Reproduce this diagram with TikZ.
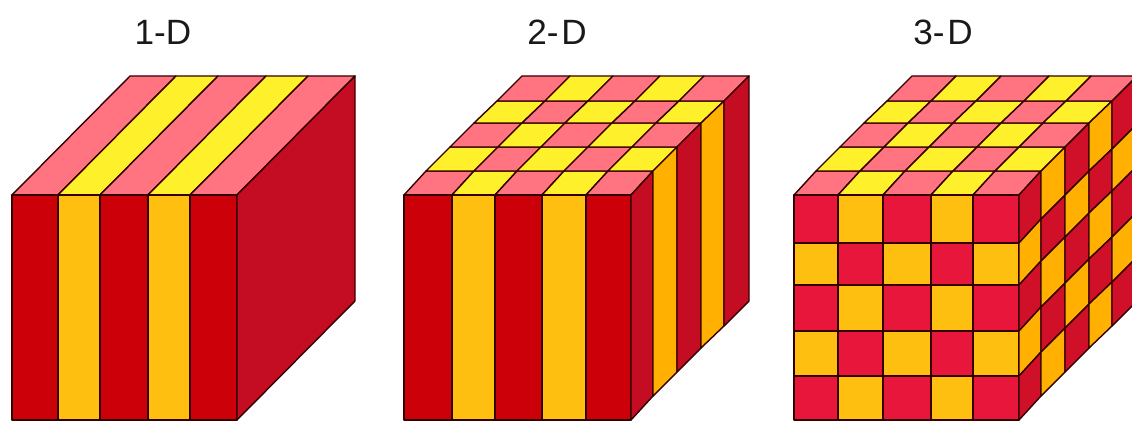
\documentclass[tikz,border=0pt]{standalone}
\usepackage{fontspec}
\setmainfont{Liberation Sans}
\definecolor{frontred}{HTML}{CC0008}
\definecolor{frontamber}{HTML}{FFBF10}
\definecolor{sidered}{HTML}{C40C22}
\definecolor{sideamber}{HTML}{FFB000}
\definecolor{toppink}{HTML}{FF7480}
\definecolor{topyellow}{HTML}{FFF02C}
\definecolor{cellred}{HTML}{E8163A}
\definecolor{cellside}{HTML}{D00F28}

% grid points of one cube: prefix, left edge, front stripe offsets
\newcommand{\cubepoints}[3]{
  \foreach \fx [count=\i from 0] in {#3} {
    \foreach \sx/\sy [count=\j from 0] in {0/0,22/24,46/48,70/72,93/94,118/119}
      \coordinate (#1t-\i-\j) at (#2+\fx+\sx, 195-\sy);
    \foreach \hy [count=\j from 0] in {0,48,90,136,181,225}
      \coordinate (#1f-\i-\j) at (#2+\fx, 195+\hy);
    \xdef\cubewidth{\fx}
  }
  \foreach \sx/\sy [count=\i from 0] in {0/0,22/24,46/48,70/72,93/94,118/119}
    \foreach \hy [count=\j from 0] in {0,48,90,136,181,225}
      \coordinate (#1s-\i-\j) at (#2+\cubewidth+\sx, 195-\sy+\hy);
}

% one face: points, even colour, odd colour, step along, step across
\newcommand{\gridface}[5]{
  \foreach \i in {0,#4,...,4}
    \foreach \j in {0,#5,...,4} {
      \ifnum\i<5 \ifnum\j<5
      \pgfmathtruncatemacro{\ii}{\i+#4}
      \pgfmathtruncatemacro{\jj}{\j+#5}
      \ifodd\numexpr\i+\j\relax \def\facecol{#3}\else \def\facecol{#2}\fi
      \draw[cell, fill=\facecol] (#1-\i-\j) -- (#1-\ii-\j) -- (#1-\ii-\jj) -- (#1-\i-\jj) -- cycle;
      \fi\fi
    }
}

\begin{document}
\begin{tikzpicture}[
  x=0.02cm, y=-0.02cm,
  cell/.style={draw=black!80!red, line width=0.8pt, line join=round},
  title/.style={font=\fontsize{20}{22}\selectfont, text=black!90, inner sep=0pt}
]
\useasboundingbox (0,0) rectangle (1132,421);
\clip (0,0) rectangle (1132,421);

% Titles
\node[title] (t1) at (163,32) {1-D};
\node[title] (t2) at (557,32) {2-\kern1.5pt D};
\node[title] (t3) at (943,32) {3-\kern1.5pt D};

% 1-D cube
\cubepoints{a}{12}{0,46,88,136,178,225}
\gridface{at}{toppink}{topyellow}{1}{5}
\gridface{af}{frontred}{frontamber}{1}{5}
\gridface{as}{sidered}{sidered}{5}{5}

% 2-D cube
\cubepoints{b}{404}{0,48,91,138,182,227}
\gridface{bt}{toppink}{topyellow}{1}{1}
\gridface{bf}{frontred}{frontamber}{1}{5}
\gridface{bs}{sidered}{sideamber}{1}{5}

% 3-D cube
\cubepoints{c}{794}{0,44,89,137,179,225}
\gridface{ct}{toppink}{topyellow}{1}{1}
\gridface{cf}{cellred}{frontamber}{1}{1}
\gridface{cs}{cellside}{sideamber}{1}{1}

\end{tikzpicture}
\end{document}
